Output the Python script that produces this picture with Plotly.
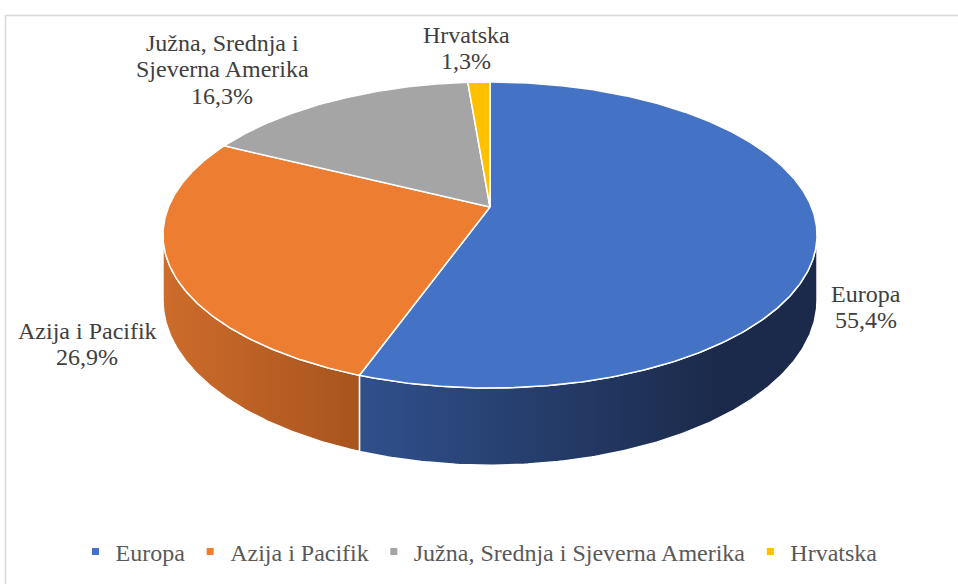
import numpy as np
import plotly.graph_objects as go

regions = ["Europa", "Azija i Pacifik", "Južna, Srednja i Sjeverna Amerika", "Hrvatska"]
shares = [55.4, 26.9, 16.3, 1.3]
label_lines = [["Europa"], ["Azija i Pacifik"], ["Južna, Srednja i", "Sjeverna Amerika"], ["Hrvatska"]]

top_colors = ["#4472C4", "#ED7D31", "#A5A5A5", "#FFC000"]
side_colors = [("#30508C", "#1B2A4A"), ("#CD6C2B", "#A8541F"),
               ("#8A8A8A", "#6E6E6E"), ("#D9A300", "#BF9000")]
label_pos = [(866, 307), (87, 344), (222, 69), (466, 48)]
serif = "Liberation Serif"
line_h = 26.5

# tilted pie with a little perspective (pixel space)
cx, apex_y = 490, 207
A, B, k, D = 321.5, 147.9, 0.183, 63


def arc(t0, t1, bottom=False):
    t = np.radians(np.linspace(t0, t1, max(int(abs(t1 - t0)) * 2, 2)))
    w = 1 + k * np.cos(t)
    x = cx + A * np.sin(t) / w
    y = apex_y - B * np.cos(t) / w
    if bottom:
        y = y + D / w
    return x, y


fig = go.Figure()

bounds = np.concatenate([[0], np.cumsum(shares)]) / sum(shares) * 360
edge = np.degrees(np.arccos(-k))  # silhouette angle of the side wall

# side walls (front half only)
for i in range(len(regions)):
    a0, a1 = max(bounds[i], edge), min(bounds[i + 1], 360 - edge)
    if a1 <= a0:
        continue
    xt, yt = arc(a0, a1)
    xb, yb = arc(a1, a0, bottom=True)
    xs = np.concatenate([xt, xb, xt[:1]])
    ys = np.concatenate([yt, yb, yt[:1]])
    fig.add_trace(go.Scatter(
        x=xs.tolist(), y=ys.tolist(), mode="lines", fill="toself",
        line=dict(color="white", width=1.5),
        fillgradient=dict(type="horizontal",
                          colorscale=[[0, side_colors[i][0]], [1, side_colors[i][1]]],
                          start=float(xs.min()), stop=float(min(xs.max(), 720))),
        hoverinfo="skip", showlegend=False))

# top faces
for i in range(len(regions)):
    xa, ya = arc(bounds[i], bounds[i + 1])
    fig.add_trace(go.Scatter(
        x=[cx] + xa.tolist() + [cx], y=[apex_y] + ya.tolist() + [apex_y],
        mode="lines", fill="toself", fillcolor=top_colors[i],
        line=dict(color="white", width=1.5),
        name=regions[i], hoverinfo="skip", showlegend=False))

# legend entries
for i in range(len(regions)):
    fig.add_trace(go.Scatter(
        x=[None], y=[None], mode="markers", name=regions[i],
        marker=dict(symbol="square", size=7, color=top_colors[i])))

# data labels, one annotation per line to keep Excel's tight line spacing
for i in range(len(regions)):
    pct = f"{shares[i]:.1f}%".replace(".", ",")
    lines = label_lines[i] + [pct]
    for j, txt in enumerate(lines):
        fig.add_annotation(x=label_pos[i][0],
                           y=label_pos[i][1] + (j - (len(lines) - 1) / 2) * line_h,
                           text=txt, showarrow=False,
                           font=dict(family=serif, size=24, color="#404040"))

fig.add_shape(type="rect", x0=5.5, y0=15.5, x1=990, y1=620,
              line=dict(color="#D9D9D9", width=1.5))

fig.update_layout(
    width=958, height=584, margin=dict(l=0, r=0, t=0, b=0, autoexpand=False),
    paper_bgcolor="white", plot_bgcolor="white",
    font=dict(family=serif),
    xaxis=dict(range=[0, 958], visible=False, fixedrange=True),
    yaxis=dict(range=[584, 0], visible=False, fixedrange=True),
    legend=dict(orientation="h", x=0.5, xanchor="center", y=0.055, yanchor="middle",
                font=dict(family=serif, size=24, color="#595959"),
                itemwidth=30, tracegroupgap=0),
)

fig.write_html("out.html", config={"displayModeBar": False},
               post_script="document.body.style.margin='0';")
